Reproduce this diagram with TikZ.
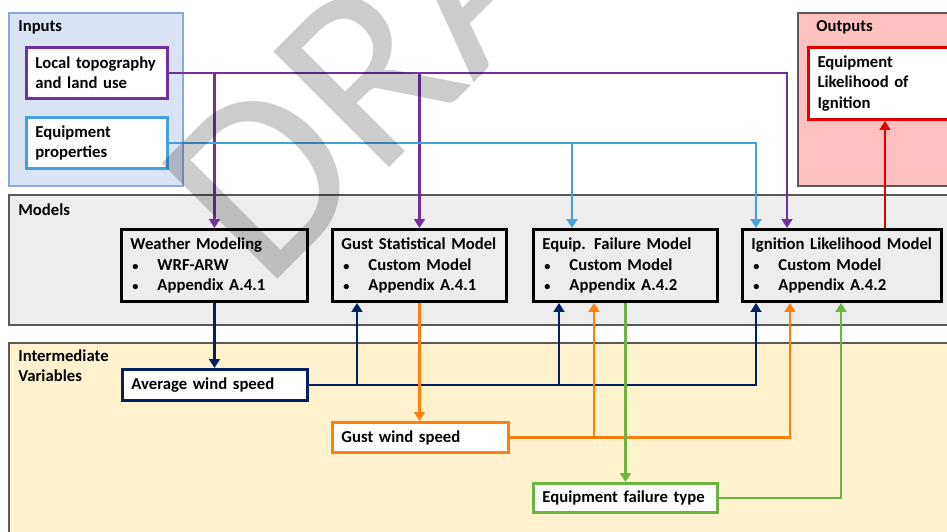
\documentclass[tikz,border=0pt]{standalone}
\usepackage{fontspec}
\setmainfont{Carlito}
\usepackage{tikz}
\usetikzlibrary{arrows.meta,calc}
\definecolor{inblue}{HTML}{DAE3F3}
\definecolor{inedge}{HTML}{8EA9DB}
\definecolor{outpink}{HTML}{FFC0C0}
\definecolor{modgray}{HTML}{EDEDED}
\definecolor{varyellow}{HTML}{FFF2CC}
\definecolor{bandedge}{HTML}{595959}
\definecolor{topocol}{HTML}{7030A0}
\definecolor{propcol}{HTML}{45A0DE}
\definecolor{likcol}{HTML}{E00000}
\definecolor{avgcol}{HTML}{002060}
\definecolor{gustcol}{HTML}{FF7F0F}
\definecolor{typecol}{HTML}{6DB33F}
\newcommand{\bul}[1]{\hspace*{0.04cm}\makebox[0.5cm][l]{\fontsize{7}{7}\selectfont\textbullet}#1}

\begin{document}
\begin{tikzpicture}[
  x=0.02cm, y=-0.02cm,
  font=\bfseries\fontsize{9.5}{11.6}\selectfont,
  band/.style={draw=bandedge, line width=0.6pt},
  bandlabel/.style={anchor=west, inner sep=0pt},
  inbox/.style={draw, line width=1.7pt, fill=white, anchor=north west, align=left, inner xsep=0.18cm, inner ysep=0pt},
  modelbox/.style={draw=black, line width=1.7pt, anchor=north west, align=left, inner xsep=0.18cm, inner ysep=0pt, minimum height=1.44cm},
  varbox/.style={draw, line width=1.7pt, fill=white, anchor=north west, align=left, inner xsep=0.18cm, inner ysep=0pt},
  wire/.style={-{Triangle[length=5pt,width=6pt]}, line width=1.5pt},
  watermark/.style={font=\fontsize{145}{145}\selectfont, text=black, text opacity=0.2, inner sep=0pt}
]
\clip (0,0) rectangle (947,531);

% bands
\path[band, fill=inblue, draw=inedge] (9,13) rectangle (183,186);
\path[band, fill=outpink] (798,13) rectangle (960,186);
\path[band, fill=modgray] (9,195) rectangle (960,325);
\path[band, fill=varyellow] (9,343) rectangle (960,540);
\node[bandlabel] (lin) at (18,27) {Inputs};
\node[bandlabel] (lout) at (816,27) {Outputs};
\node[bandlabel] (lmod) at (18,210) {Models};
\node[bandlabel, anchor=north west, align=left] (lvar) at (18,349) {Intermediate\\Variables};

% inputs and output
\node[inbox, draw=topocol, text width=2.46cm, minimum height=1.02cm] (topo) at (25,46) {Local topography\\and land use};
\node[inbox, draw=propcol, text width=2.46cm, minimum height=1.02cm] (props) at (25,116) {Equipment\\properties};
\node[inbox, draw=likcol, text width=2.7cm, minimum height=1.44cm] (lik) at (807,46) {Equipment\\Likelihood of\\Ignition};

% models
\node[modelbox, text width=3.36cm] (wx) at (120,228) {Weather Modeling\\\bul{WRF-ARW}\\\bul{Appendix A.4.1}};
\node[modelbox, text width=3.12cm] (gs) at (331,228) {Gust Statistical Model\\\bul{Custom Model}\\\bul{Appendix A.4.1}};
\node[modelbox, text width=3.32cm] (eq) at (532,228) {Equip. Failure Model\\\bul{Custom Model}\\\bul{Appendix A.4.2}};
\node[modelbox, text width=3.62cm] (ign) at (741,228) {Ignition Likelihood Model\\\bul{Custom Model}\\\bul{Appendix A.4.2}};

% intermediate variables
\node[varbox, draw=avgcol, text width=3.34cm, minimum height=0.62cm] (avg) at (121,368) {Average wind speed};
\node[varbox, draw=gustcol, text width=3.16cm, minimum height=0.6cm] (gust) at (331,421) {Gust wind speed};
\node[varbox, draw=typecol, text width=3.32cm, minimum height=0.58cm] (ftype) at (532,482) {Equipment failure type};

% tap points on the model boxes
\coordinate (igtopo) at ([xshift=0.92cm]ign.north west);
\coordinate (igprop) at ([xshift=0.3cm]ign.north west);
\coordinate (eqprop) at ([xshift=0.8cm]eq.north west);
\coordinate (igavg) at ([xshift=0.3cm]ign.south west);
\coordinate (gsavg) at ([xshift=0.52cm]gs.south west);
\coordinate (eqavg) at ([xshift=0.54cm]eq.south west);
\coordinate (iggust) at ([xshift=0.98cm]ign.south west);
\coordinate (eqgust) at ([xshift=1.24cm]eq.south west);
\coordinate (igtype) at ([xshift=2.0cm]ign.south west);

% inputs into models
\draw[wire, topocol] (topo.east) -| (igtopo);
\draw[wire, topocol] (topo.east -| wx.north) -- (wx.north);
\draw[wire, topocol] (topo.east -| gs.north) -- (gs.north);
\draw[wire, propcol] (props.east) -| (igprop);
\draw[wire, propcol] (props.east -| eqprop) -- (eqprop);
\draw[wire, likcol] (ign.north -| lik.south) -- (lik.south);

% model outputs and feedback
\draw[wire, avgcol] (wx.south) -- (wx.south |- avg.north);
\draw[wire, avgcol] (avg.east) -| (igavg);
\draw[wire, avgcol] (avg.east -| gsavg) -- (gsavg);
\draw[wire, avgcol] (avg.east -| eqavg) -- (eqavg);
\draw[wire, gustcol] (gs.south) -- (gs.south |- gust.north);
\draw[wire, gustcol] (gust.east) -| (iggust);
\draw[wire, gustcol] (gust.east -| eqgust) -- (eqgust);
\draw[wire, typecol] (eq.south) -- (eq.south |- ftype.north);
\draw[wire, typecol] (ftype.east) -| (igtype);

% watermark
\node[watermark, rotate=45, anchor=base west] (wm) at (265,292) {DRAFT};

\end{tikzpicture}
\end{document}
